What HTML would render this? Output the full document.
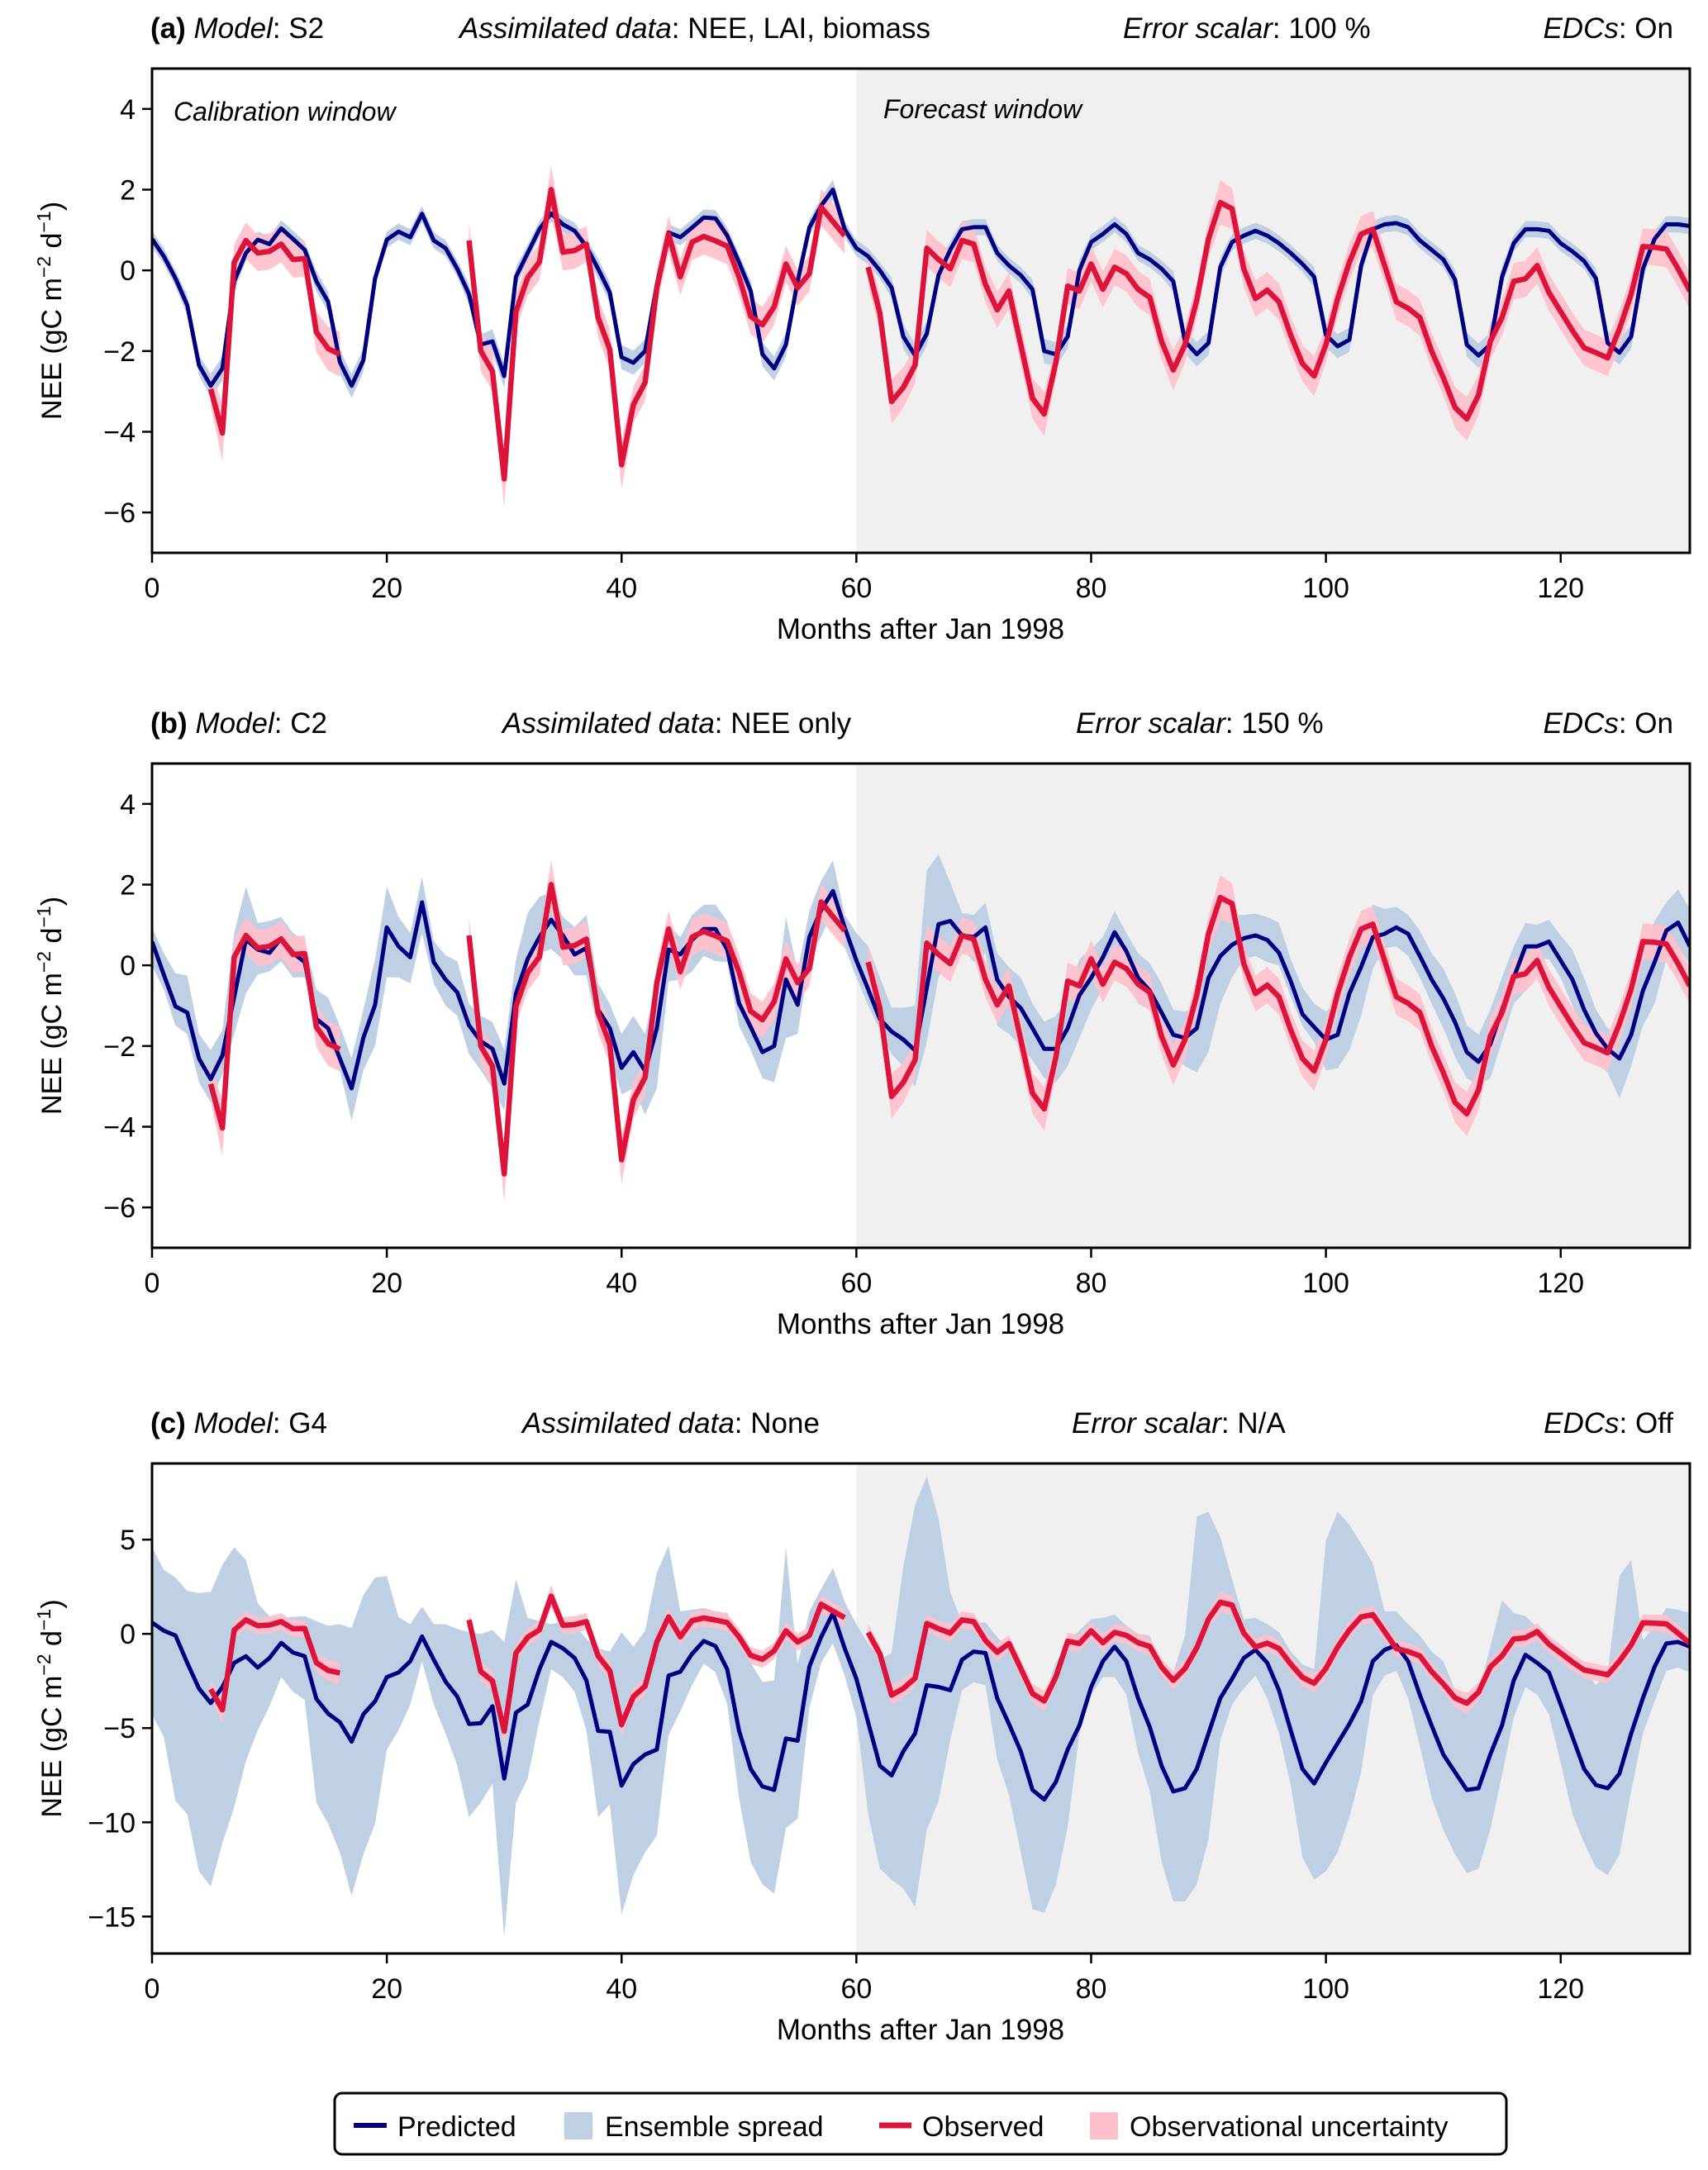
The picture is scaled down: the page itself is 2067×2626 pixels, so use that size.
<!DOCTYPE html>
<html><head><meta charset="utf-8"><title>NEE model comparison</title>
<style>
html,body{margin:0;padding:0;background:#fff;}
svg{display:block;font-family:"Liberation Sans",sans-serif;}
</style></head>
<body>
<svg id="fig" xmlns="http://www.w3.org/2000/svg" width="2067" height="2626" viewBox="0 0 2067 2626">
<rect x="0" y="0" width="2067" height="2626" fill="#fff"/>
<g id="root"></g>
<g>
  <rect x="405" y="2533" width="1418" height="74" rx="9" ry="9" fill="#fff" stroke="#000" stroke-width="3"/>
  <line x1="428" y1="2572" x2="468" y2="2572" stroke="#000080" stroke-width="6"/>
  <text x="481" y="2585" font-size="34">Predicted</text>
  <rect x="683" y="2556" width="34" height="33" fill="#bfd0e5"/>
  <text x="732" y="2585" font-size="34">Ensemble spread</text>
  <line x1="1064" y1="2572" x2="1103" y2="2572" stroke="#dc143c" stroke-width="7"/>
  <text x="1116" y="2585" font-size="34">Observed</text>
  <rect x="1319" y="2556" width="34" height="33" fill="#ffc0cb"/>
  <text x="1367" y="2585" font-size="34">Observational uncertainty</text>
</g>
</svg>
<script>
const obs = [null,null,null,null,null,-2.94,-4.03,0.2,0.74,0.43,
0.47,0.65,0.27,0.29,-1.53,-1.94,-2.08,null,null,null,
null,null,null,null,null,null,null,0.74,-2.0,-2.5,
-5.17,-1.02,-0.18,0.21,2.0,0.45,0.49,0.65,-1.17,-1.96,
-4.82,-3.33,-2.78,-0.43,0.9,-0.16,0.7,0.84,0.73,0.6,
-0.16,-1.14,-1.35,-0.9,0.16,-0.43,-0.08,1.57,1.21,0.86,
null,0.08,-1.06,-3.25,-2.9,-2.35,0.55,0.27,0.04,0.74,
0.65,-0.35,-0.98,-0.51,-1.84,-3.17,-3.56,-2.27,-0.39,-0.51,
0.16,-0.47,0.08,-0.08,-0.47,-0.67,-1.76,-2.47,-1.84,-0.74,
0.78,1.68,1.53,0.04,-0.7,-0.49,-0.78,-1.6,-2.31,-2.62,
-1.84,-0.7,0.2,0.9,1.02,0.12,-0.78,-0.94,-1.17,-2.0,
-2.66,-3.4,-3.68,-3.09,-1.76,-1.17,-0.27,-0.21,0.12,-0.55,
-1.02,-1.49,-1.92,-2.04,-2.17,-1.45,-0.59,0.59,0.57,0.53,
0.04,-0.51];
const obsErr = [0.45,0.45,0.45,0.45,0.45,0.45,0.7,0.45,0.45,0.45,
0.45,0.45,0.45,0.45,0.5,0.55,0.55,0.45,0.45,0.45,
0.45,0.45,0.45,0.45,0.45,0.45,0.45,0.45,0.5,0.5,
0.7,0.45,0.45,0.45,0.6,0.45,0.45,0.45,0.5,0.5,
0.6,0.45,0.45,0.45,0.45,0.45,0.45,0.45,0.45,0.45,
0.45,0.45,0.45,0.45,0.45,0.45,0.45,0.45,0.45,0.45,
0.45,0.45,0.45,0.55,0.5,0.45,0.45,0.45,0.45,0.45,
0.45,0.45,0.45,0.45,0.5,0.5,0.55,0.45,0.45,0.45,
0.45,0.45,0.45,0.45,0.45,0.45,0.45,0.5,0.45,0.45,
0.45,0.55,0.5,0.45,0.45,0.45,0.45,0.45,0.45,0.5,
0.45,0.45,0.45,0.45,0.45,0.45,0.45,0.45,0.45,0.45,
0.45,0.5,0.55,0.5,0.45,0.45,0.45,0.45,0.45,0.45,
0.45,0.45,0.45,0.45,0.45,0.45,0.45,0.45,0.45,0.45,
0.45,0.45];
const predA = [0.78,0.35,-0.2,-0.86,-2.35,-2.86,-2.43,-0.27,0.43,0.76,
0.65,1.04,0.78,0.51,-0.27,-0.78,-2.27,-2.86,-2.23,-0.2,
0.76,0.96,0.82,1.4,0.74,0.55,0.04,-0.59,-1.84,-1.76,
-2.62,-0.16,0.43,1.02,1.41,1.14,0.98,0.59,0.04,-0.55,
-2.15,-2.29,-2.0,-0.35,0.94,0.82,1.06,1.31,1.29,0.86,
0.2,-0.51,-2.08,-2.43,-1.84,-0.27,1.06,1.6,2.0,1.02,
0.55,0.35,0.0,-0.43,-1.64,-2.11,-1.57,-0.12,0.51,1.02,
1.07,1.07,0.43,0.12,-0.12,-0.47,-2.0,-2.08,-1.64,0.0,
0.7,0.9,1.14,0.9,0.43,0.27,0.04,-0.27,-1.76,-2.08,
-1.8,0.08,0.7,0.86,0.98,0.86,0.67,0.43,0.16,-0.16,
-1.6,-1.88,-1.72,0.12,1.02,1.14,1.17,1.07,0.74,0.51,
0.27,-0.23,-1.84,-2.11,-1.84,-0.16,0.67,1.02,1.02,0.98,
0.67,0.47,0.23,-0.2,-1.8,-2.04,-1.64,0.04,0.78,1.14,
1.14,1.1];
const halfA = [0.2,0.2,0.2,0.25,0.25,0.3,0.3,0.25,0.2,0.2,
0.2,0.2,0.2,0.2,0.25,0.25,0.3,0.3,0.3,0.2,
0.2,0.2,0.2,0.2,0.2,0.2,0.2,0.25,0.25,0.3,
0.3,0.25,0.2,0.2,0.2,0.2,0.2,0.2,0.25,0.25,
0.3,0.3,0.3,0.25,0.2,0.2,0.2,0.2,0.2,0.2,
0.2,0.25,0.3,0.3,0.3,0.25,0.2,0.2,0.25,0.2,
0.2,0.2,0.2,0.25,0.3,0.3,0.3,0.25,0.2,0.2,
0.2,0.2,0.2,0.2,0.2,0.25,0.3,0.3,0.3,0.25,
0.2,0.2,0.2,0.2,0.2,0.2,0.2,0.25,0.3,0.3,
0.3,0.25,0.2,0.2,0.2,0.2,0.2,0.2,0.2,0.25,
0.3,0.3,0.3,0.25,0.2,0.2,0.2,0.2,0.2,0.2,
0.2,0.25,0.3,0.3,0.3,0.25,0.2,0.2,0.2,0.2,
0.2,0.2,0.2,0.25,0.3,0.3,0.3,0.25,0.2,0.2,
0.2,0.2];
const predB = [0.59,-0.23,-1.02,-1.17,-2.31,-2.82,-2.23,-0.78,0.64,0.39,
0.31,0.67,0.31,0.08,-1.33,-1.56,-2.31,-3.05,-1.8,-0.98,
0.94,0.47,0.2,1.56,0.08,-0.35,-0.67,-1.49,-1.88,-2.07,
-2.93,-0.7,0.16,0.7,1.13,0.74,0.27,0.43,-1.1,-1.56,
-2.54,-2.15,-2.62,-1.56,0.39,0.27,0.63,0.9,0.9,0.39,
-0.94,-1.53,-2.15,-2.0,-0.35,-0.98,0.7,1.37,1.84,0.94,
0.12,-0.59,-1.33,-1.64,-1.84,-2.11,-0.55,1.02,1.1,0.74,
0.7,0.94,-0.35,-0.78,-1.06,-1.56,-2.07,-2.07,-1.56,-0.74,
-0.31,0.2,0.82,0.35,-0.31,-0.63,-1.17,-1.72,-1.8,-1.56,
-0.31,0.23,0.51,0.67,0.74,0.63,0.31,-0.39,-1.21,-1.53,
-1.84,-1.72,-0.7,-0.04,0.7,0.78,0.94,0.78,0.23,-0.35,
-0.82,-1.41,-2.15,-2.39,-1.96,-1.1,-0.31,0.47,0.47,0.59,
0.12,-0.35,-1.1,-1.68,-2.07,-2.31,-1.72,-0.63,0.08,0.86,
1.06,0.47];
const upB = [0.94,0.3,-0.2,-0.25,-1.7,-2.1,-1.6,0.8,1.95,1.05,
1.1,1.2,0.8,0.6,-0.6,-0.8,-1.5,-2.3,-1.1,0.15,
1.95,1.2,0.8,2.2,0.6,0.25,0.1,-0.95,-1.25,-1.4,
-2.1,0.15,1.3,1.7,1.8,1.2,0.95,1.25,-0.45,-0.95,
-1.7,-1.25,-1.7,-0.3,1.0,0.7,1.25,1.5,1.5,1.1,
-0.3,-0.95,-1.5,-1.2,1.2,-0.15,1.35,2.1,2.6,1.25,
0.8,0.47,-0.3,-1.05,-1.05,-1.0,2.35,2.75,2.05,1.3,
1.25,1.55,0.3,-0.05,-0.3,-0.95,-1.4,-1.25,-0.78,0.15,
0.4,0.7,1.35,0.8,0.3,0.05,-0.45,-1.1,-1.15,-0.95,
0.8,1.25,1.25,1.25,1.28,1.2,1.05,0.15,-0.55,-0.95,
-1.15,-0.85,0.47,0.8,1.5,1.4,1.45,1.25,0.86,0.3,
-0.08,-0.7,-1.48,-1.72,-1.1,-0.3,0.47,1.05,1.0,1.13,
0.74,0.39,-0.31,-1.1,-1.56,-1.72,-0.94,0.15,1.1,1.56,
1.88,1.4];
const loB = [0.0,-0.6,-1.5,-1.7,-2.9,-3.4,-2.7,-1.7,-0.7,-0.23,
-0.15,0.1,-0.3,-0.3,-1.4,-1.9,-2.6,-3.85,-2.6,-2.0,
-0.3,-0.3,-0.45,0.8,-0.45,-1.0,-1.25,-2.2,-2.6,-3.05,
-3.6,-1.25,-0.3,0.3,0.4,0.15,-0.25,-0.25,-1.65,-2.2,
-3.2,-3.05,-3.7,-3.05,-0.4,-0.35,-0.15,0.23,0.1,0.08,
-1.5,-2.1,-2.8,-2.9,-1.8,-1.7,0.15,0.7,1.4,0.45,
-0.3,-1.0,-1.6,-2.2,-2.5,-3.0,-1.9,-0.3,0.15,0.45,
0.08,0.3,-1.5,-1.7,-2.0,-2.35,-2.8,-2.9,-2.5,-1.8,
-1.1,-0.55,0.3,-0.15,-0.95,-1.1,-1.65,-2.25,-2.5,-2.65,
-2.15,-0.95,-0.3,0.15,0.23,0.08,0.0,-0.78,-1.5,-1.9,
-2.6,-2.55,-2.1,-1.25,-0.08,0.43,0.47,0.23,-0.3,-0.95,
-1.56,-2.27,-2.8,-2.97,-2.8,-1.88,-0.95,-0.63,0.15,0.15,
-0.31,-1.0,-1.64,-2.35,-2.66,-3.3,-2.5,-1.5,-0.95,0.15,
0.47,0.0];
const predC = [0.6,0.17,-0.09,-1.54,-2.9,-3.67,-2.82,-1.54,-1.19,-1.79,
-1.28,-0.48,-0.99,-1.19,-3.45,-4.23,-4.69,-5.72,-4.27,-3.58,
-2.3,-2.05,-1.45,-0.14,-1.37,-2.53,-3.33,-4.78,-4.74,-3.84,
-7.68,-4.18,-3.75,-1.88,-0.43,-0.77,-1.28,-2.47,-5.15,-5.2,
-8.05,-6.91,-6.4,-6.14,-2.22,-2.01,-1.06,-0.38,-0.65,-1.88,
-5.12,-7.17,-8.1,-8.28,-5.55,-5.67,-1.74,-0.17,1.1,-0.77,
-2.39,-4.69,-7.0,-7.51,-6.23,-5.29,-2.73,-2.82,-2.99,-1.37,
-0.94,-1.02,-3.41,-4.78,-6.23,-8.28,-8.79,-7.85,-6.14,-4.86,
-2.82,-1.45,-0.68,-1.45,-3.41,-4.95,-7.0,-8.36,-8.19,-7.17,
-5.29,-3.41,-2.39,-1.28,-0.85,-1.54,-2.99,-5.12,-7.17,-7.94,
-6.83,-5.8,-4.78,-3.58,-1.45,-0.85,-0.6,-1.45,-3.24,-4.86,
-6.4,-7.34,-8.28,-8.19,-6.4,-4.86,-2.47,-1.11,-1.54,-2.05,
-3.75,-5.46,-7.17,-8.02,-8.19,-7.42,-5.29,-3.41,-1.74,-0.51,
-0.43,-0.68];
const upC = [4.6,3.4,2.99,2.27,2.17,2.22,3.67,4.6,3.92,1.62,
0.94,0.85,0.9,0.94,0.68,0.43,0.51,0.31,2.05,2.99,
3.07,0.89,0.51,1.45,0.51,0.51,0.26,0.09,0,0.2,
-0.43,2.9,0.85,0.68,0.51,0.68,0.51,-0.26,-0.77,-0.94,
0.09,-0.68,0.17,3.24,4.69,1.19,1.28,1.37,1.19,1.11,
0,-1.54,-2.56,-2.47,4.6,-1.62,1.19,2.39,3.5,1.71,
0.51,-0.51,-1.37,-1.02,3.58,6.83,8.36,6.14,2.22,0.6,
0.6,0.6,-0.17,-0.85,-2.22,-2.82,-3.24,-1.54,-0.43,0.17,
0.77,0.85,1.02,0.43,0,-0.09,-1.88,-2.05,-0.09,6.23,
6.48,5.12,2.9,0.77,0.85,0.51,0.09,-0.94,-1.62,-1.88,
4.95,6.48,5.8,4.78,3.75,1.19,1.19,0.51,-0.09,-0.94,
-1.45,-2.99,-3.41,-3.16,-0.68,1.79,1.11,0.94,0.34,-0.34,
-0.85,-1.37,-1.88,-2.73,-2.05,3.07,3.92,-0.34,0.43,1.37,
1.28,1.11];
const loC = [-4.27,-5.46,-8.87,-9.56,-12.6,-13.4,-11.1,-9.2,-6.74,-5.12,
-3.84,-2.3,-3.07,-3.5,-8.96,-10.07,-11.6,-13.9,-11.7,-10.07,
-6.14,-5.12,-3.75,-1.45,-3.75,-5.29,-7.0,-9.73,-8.96,-7.94,
-16.1,-8.96,-7.68,-4.61,-1.88,-2.3,-3.07,-5.12,-9.73,-9.04,
-14.9,-12.8,-11.6,-10.7,-5.38,-4.1,-2.73,-1.57,-2.05,-3.75,
-8.7,-12.1,-13.3,-13.8,-10.3,-9.81,-3.92,-1.54,-0.51,-2.22,
-4.44,-9.56,-12.46,-13.05,-13.5,-14.5,-10.4,-8.87,-5.63,-2.99,
-2.56,-2.73,-6.66,-8.53,-11.6,-14.6,-14.8,-13.3,-10.24,-5.29,
-3.24,-2.3,-2.3,-3.24,-6.31,-8.36,-12.1,-14.2,-14.2,-13.3,
-10.9,-5.63,-3.75,-2.9,-2.22,-3.41,-5.29,-8.02,-11.86,-13.05,
-12.6,-11.6,-9.73,-7.34,-3.24,-2.22,-1.96,-3.41,-5.97,-8.7,
-10.4,-11.7,-12.7,-12.46,-10.4,-7.51,-4.44,-2.82,-3.24,-4.27,
-6.83,-9.56,-11.1,-12.4,-12.8,-11.7,-8.36,-5.29,-3.58,-1.96,
-1.79,-2.05];
const xTicks = [0,20,40,60,80,100,120];
const yTicksAB = [4,2,0,-2,-4,-6];
const yTicksC = [5,0,-5,-10,-15];
const forecastStart = 60;

const NS = 'http://www.w3.org/2000/svg';
const root = document.getElementById('root');
function mk(tag, attrs, parent){
  const e = document.createElementNS(NS, tag);
  for (const k in attrs) e.setAttribute(k, attrs[k]);
  (parent||root).appendChild(e);
  return e;
}
const X0 = 184, X1 = 2045, XMIN = 0, XMAX = 131;
function xs(m){ return X0 + (m - XMIN) / (XMAX - XMIN) * (X1 - X0); }

function segments(arr){
  const segs = []; let cur = [];
  arr.forEach((v,i)=>{ if (v===null){ if(cur.length) segs.push(cur); cur=[]; } else cur.push(i); });
  if (cur.length) segs.push(cur);
  return segs;
}

function panel(cfg){
  const g = mk('g', {});
  
  
  const ys = v => cfg.top + (cfg.ymax - v) / (cfg.ymax - cfg.ymin) * (cfg.bottom - cfg.top);
  const clipId = cfg.name + '-clip';
  const cp = mk('clipPath', {id: clipId}, g);
  mk('rect', {x: X0, y: cfg.top, width: X1 - X0, height: cfg.bottom - cfg.top}, cp);
  const plot = mk('g', {'clip-path': 'url(#' + clipId + ')'}, g);
  const fw = mk('rect', {x: xs(forecastStart), y: cfg.top, width: X1 - xs(forecastStart), height: cfg.bottom - cfg.top, fill: '#f0f0f0'}, plot);
  
  
  // ensemble spread
  let up = [], lo = [];
  for (let i = 0; i < cfg.pred.length; i++){ up.push(cfg.up(i)); lo.push(cfg.lo(i)); }
  let d = '';
  up.forEach((v,i)=>{ d += (i ? 'L' : 'M') + xs(i).toFixed(1) + ',' + ys(v).toFixed(1); });
  for (let i = lo.length - 1; i >= 0; i--) d += 'L' + xs(i).toFixed(1) + ',' + ys(lo[i]).toFixed(1);
  const sp = mk('path', {d: d + 'Z', fill: '#bfd0e5'}, plot);
  
  
  // observational uncertainty
  const segs = segments(obs);
  segs.forEach(seg=>{
    let dd = '';
    seg.forEach((i,k)=>{ dd += (k ? 'L' : 'M') + xs(i).toFixed(1) + ',' + ys(obs[i] + obsErr[i]).toFixed(1); });
    for (let k = seg.length - 1; k >= 0; k--){ const i = seg[k]; dd += 'L' + xs(i).toFixed(1) + ',' + ys(obs[i] - obsErr[i]).toFixed(1); }
    const u = mk('path', {d: dd + 'Z', fill: '#ffc0cb', 'fill-opacity': '0.9'}, plot);
    
    
  });
  // predicted line
  let pd = '';
  cfg.pred.forEach((v,i)=>{ pd += (i ? 'L' : 'M') + xs(i).toFixed(1) + ',' + ys(v).toFixed(1); });
  const pl = mk('path', {d: pd, fill: 'none', stroke: '#000080', 'stroke-width': 5, 'stroke-linejoin': 'round'}, plot);
  
  
  // observed line
  segs.forEach(seg=>{
    let od = '';
    seg.forEach((i,k)=>{ od += (k ? 'L' : 'M') + xs(i).toFixed(1) + ',' + ys(obs[i]).toFixed(1); });
    const ol = mk('path', {d: od, fill: 'none', stroke: '#dc143c', 'stroke-width': 6.5, 'stroke-linejoin': 'round'}, plot);
    
    
  });
  // window labels
  if (cfg.windowLabels){
    const c = mk('text', {x: 210, y: cfg.top + 63, 'font-size': 32, 'font-style': 'italic'}, g);
    c.textContent = 'Calibration window';
    
    
    const f = mk('text', {x: 1069, y: cfg.top + 60, 'font-size': 32, 'font-style': 'italic'}, g);
    f.textContent = 'Forecast window';
    
    
  }
  // frame
  const fr = mk('rect', {x: X0, y: cfg.top, width: X1 - X0, height: cfg.bottom - cfg.top, fill: 'none', stroke: '#000', 'stroke-width': 3}, g);
  
  
  // x ticks
  xTicks.forEach(t=>{
    mk('line', {x1: xs(t), x2: xs(t), y1: cfg.bottom, y2: cfg.bottom + 12, stroke: '#000', 'stroke-width': 2.5}, g);
    const tl = mk('text', {x: xs(t), y: cfg.bottom + 54, 'font-size': 34, 'text-anchor': 'middle'}, g);
    tl.textContent = String(t);
    
    
  });
  cfg.yTicks.forEach(t=>{
    mk('line', {x1: X0 - 12, x2: X0, y1: ys(t), y2: ys(t), stroke: '#000', 'stroke-width': 2.5}, g);
    const tl = mk('text', {x: X0 - 20, y: ys(t) + 12, 'font-size': 34, 'text-anchor': 'end'}, g);
    tl.textContent = t < 0 ? '\u2212' + Math.abs(t) : String(t);
    
    
  });
  const xl = mk('text', {x: 1114, y: cfg.bottom + 104, 'font-size': 35, 'text-anchor': 'middle'}, g);
  xl.textContent = 'Months after Jan 1998';
  
  
  const cy = (cfg.top + cfg.bottom) / 2;
  const yl = mk('text', {x: 0, y: 0, 'font-size': 34, 'text-anchor': 'middle', transform: 'translate(74,' + cy + ') rotate(-90)'}, g);
  yl.innerHTML = 'NEE (gC m<tspan font-size="23" dy="-13">\u22122</tspan><tspan dy="13"> d</tspan><tspan font-size="23" dy="-13">\u22121</tspan><tspan dy="13">)</tspan>';
  
  
  // title
  const ty = cfg.top - 37;
  const t1 = mk('text', {x: 182, y: ty, 'font-size': 35}, g);
  t1.innerHTML = '<tspan font-weight="bold">(' + cfg.letter + ')</tspan> <tspan font-style="italic">Model</tspan>: ' + cfg.model;
  
  
  const t2 = mk('text', {x: cfg.ax, y: ty, 'font-size': 35}, g);
  t2.innerHTML = '<tspan font-style="italic">Assimilated data</tspan>: ' + cfg.assim;
  
  
  const t3 = mk('text', {x: cfg.ex, y: ty, 'font-size': 35}, g);
  t3.innerHTML = '<tspan font-style="italic">Error scalar</tspan>: ' + cfg.err;
  
  
  const t4 = mk('text', {x: 2025, y: ty, 'font-size': 35, 'text-anchor': 'end'}, g);
  t4.innerHTML = '<tspan font-style="italic">EDCs</tspan>: ' + cfg.edc;
  
  
}

panel({name: 'panel-a', top: 83, bottom: 669, ymin: -7, ymax: 5, yTicks: yTicksAB,
  pred: predA, up: i => predA[i] + halfA[i], lo: i => predA[i] - halfA[i], windowLabels: true,
  letter: 'a', model: 'S2', assim: 'NEE, LAI, biomass', err: '100 %', edc: 'On', ax: 556, ex: 1359});
panel({name: 'panel-b', top: 924, bottom: 1510, ymin: -7, ymax: 5, yTicks: yTicksAB,
  pred: predB, up: i => upB[i], lo: i => loB[i], windowLabels: false,
  letter: 'b', model: 'C2', assim: 'NEE only', err: '150 %', edc: 'On', ax: 608, ex: 1302});
panel({name: 'panel-c', top: 1771, bottom: 2364, ymin: -16.96, ymax: 9.04, yTicks: yTicksC,
  pred: predC, up: i => upC[i], lo: i => loC[i], windowLabels: false,
  letter: 'c', model: 'G4', assim: 'None', err: 'N/A', edc: 'Off', ax: 632, ex: 1297});
</script>
</body></html>
